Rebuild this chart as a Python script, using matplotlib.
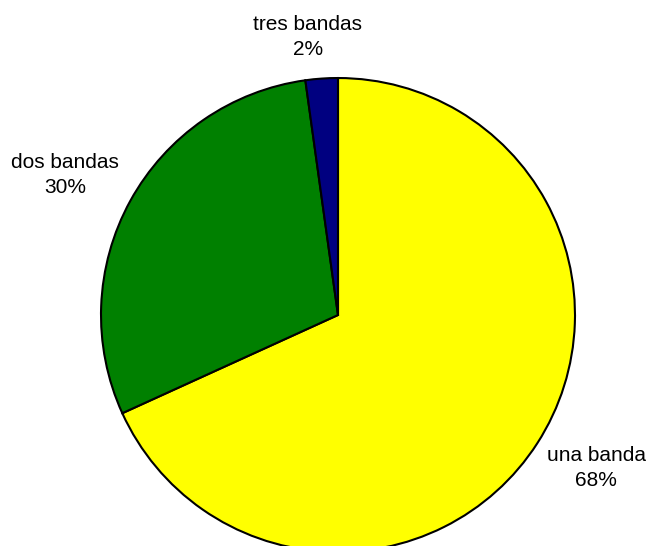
import matplotlib
matplotlib.use('Agg')
import matplotlib.pyplot as plt

plt.rcParams['font.family'] = ['Liberation Sans', 'DejaVu Sans']

# Datos
categorias = ['una banda', 'dos bandas', 'tres bandas']
porcentajes = [68.2, 29.6, 2.2]
colores = ['#FFFF00', '#008000', '#000080']

fig = plt.figure(figsize=(6.5, 5.46), dpi=100)
ax = fig.add_axes([0.1554, -0.011, 0.7292, 0.8681])

ax.pie(porcentajes, colors=colores, startangle=90, counterclock=False,
       radius=1, wedgeprops={'edgecolor': 'black', 'linewidth': 1.5})

# Etiquetas (posiciones en unidades del radio)
pos_etiquetas = [(1.089, -0.646), (-1.152, 0.591), (-0.127, 1.173)]
for cat, pct, (x, y) in zip(categorias, porcentajes, pos_etiquetas):
    ax.text(x, y, f'{cat}\n{round(pct)}%', ha='center', va='center',
            fontsize=15, linespacing=1.35)

ax.set_xlim(-1, 1)
ax.set_ylim(-1, 1)
ax.set_aspect('equal')
ax.axis('off')

fig.savefig('out.png', dpi=100)
